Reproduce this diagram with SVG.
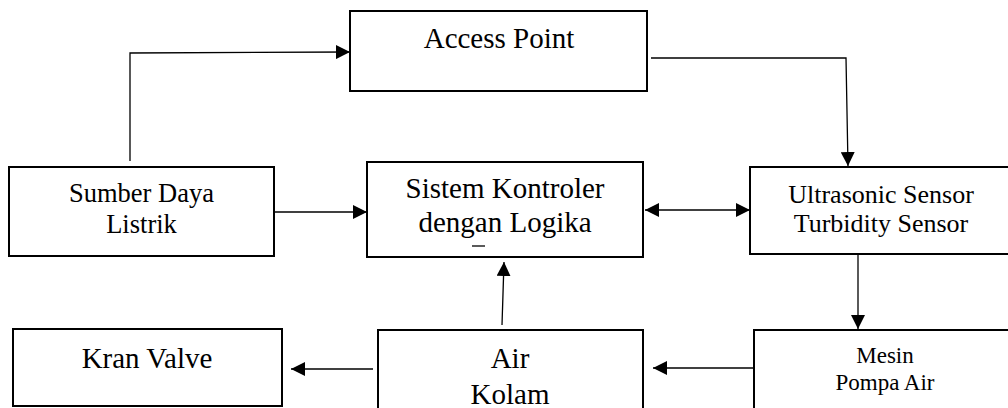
<svg xmlns="http://www.w3.org/2000/svg" width="1008" height="408" viewBox="0 0 1008 408">
<style>
.box{fill:#fff;stroke:#000;stroke-width:2}
text{font-family:'Liberation Serif','Tinos','DejaVu Serif',serif;fill:#000;text-anchor:middle}
.c{fill:none;stroke:#000;stroke-width:1.3}
</style>
<defs>
<marker id="ah" markerUnits="userSpaceOnUse" markerWidth="14" markerHeight="14" refX="14" refY="7" orient="auto-start-reverse" viewBox="0 0 14 14">
<path d="M0,0 L14,7 L0,14 Z" fill="#000"/>
</marker>
</defs>
<rect width="1008" height="408" fill="#fff"/>
<g id="access-point">
<rect class="box" x="350" y="11" width="297" height="80"/>
<text x="499" y="48" font-size="29">Access Point</text>
</g>
<g id="sumber-daya">
<rect class="box" x="9" y="167" width="265" height="89"/>
<text x="141.5" y="202" font-size="26.5">Sumber Daya</text>
<text x="141.5" y="233" font-size="26.5">Listrik</text>
</g>
<g id="sistem-kontroler">
<rect class="box" x="367" y="162" width="276" height="95"/>
<text x="505" y="198" font-size="29">Sistem Kontroler</text>
<text x="505" y="232" font-size="29">dengan Logika</text>
<line x1="472" y1="246" x2="485" y2="246" stroke="#000" stroke-width="1.3"/>
</g>
<g id="sensor">
<rect class="box" x="750" y="167" width="270" height="87"/>
<text x="881" y="203" font-size="26">Ultrasonic Sensor</text>
<text x="881" y="232" font-size="26">Turbidity Sensor</text>
</g>
<g id="kran-valve">
<rect class="box" x="13" y="329" width="269" height="77"/>
<text x="147" y="368" font-size="29">Kran Valve</text>
</g>
<g id="air-kolam">
<rect class="box" x="378" y="330" width="265" height="90"/>
<text x="510" y="368" font-size="29">Air</text>
<text x="510" y="404" font-size="29">Kolam</text>
</g>
<g id="mesin-pompa">
<rect class="box" x="754" y="330" width="270" height="90"/>
<text x="885" y="363" font-size="23">Mesin</text>
<text x="885" y="390" font-size="23">Pompa Air</text>
</g>
<g id="connectors">
<polyline class="c" points="130,161 130,53 350,52" marker-end="url(#ah)"/>
<polyline class="c" points="651,58 846,58 848,166" marker-end="url(#ah)"/>
<line class="c" x1="274" y1="212" x2="367" y2="212" marker-end="url(#ah)"/>
<line class="c" x1="645" y1="210" x2="750" y2="210" marker-start="url(#ah)" marker-end="url(#ah)"/>
<line class="c" x1="858" y1="254" x2="858" y2="329" marker-end="url(#ah)"/>
<line class="c" x1="754" y1="368" x2="653" y2="368" marker-end="url(#ah)"/>
<line class="c" x1="373" y1="369" x2="291" y2="369" marker-end="url(#ah)"/>
<line class="c" x1="502" y1="325" x2="504" y2="262" marker-end="url(#ah)"/>
</g>
</svg>
